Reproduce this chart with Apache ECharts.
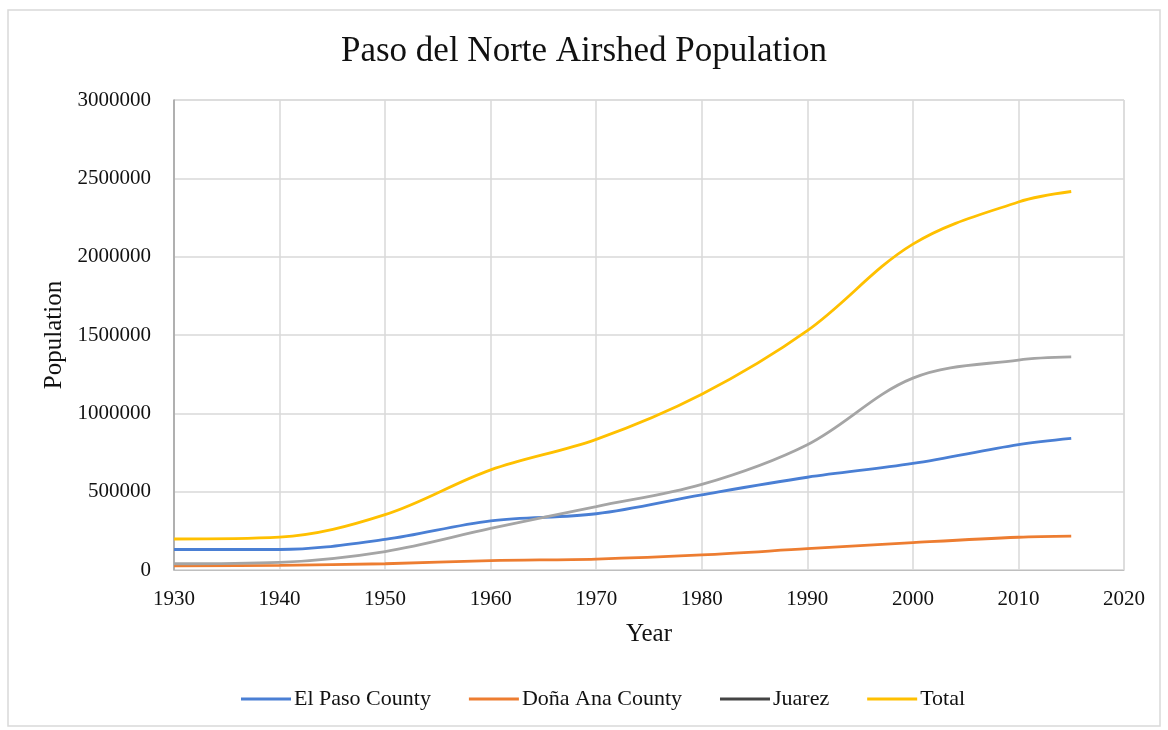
<!DOCTYPE html>
<html>
<head>
<meta charset="utf-8">
<script src="https://cdn.jsdelivr.net/npm/echarts@6/dist/echarts.min.js"></script>
<style>
html,body{margin:0;padding:0;background:#fff;}
#chart{width:1168px;height:730px;}
</style>
</head>
<body>
<div id="chart"></div>
<script>
const years = [1930, 1940, 1950, 1960, 1970, 1980, 1990, 2000, 2010, 2015];
const elPaso = [131000, 131000, 195000, 314000, 359000, 480000, 592000, 680000, 800000, 840000];
const donaAna = [27000, 30000, 40000, 60000, 70000, 96000, 136000, 175000, 209000, 216000];
const juarez = [40000, 49000, 118000, 265000, 405000, 546000, 800000, 1225000, 1340000, 1360000];
const total = [198000, 210000, 353000, 639000, 834000, 1122000, 1528000, 2080000, 2349000, 2416000];
const seriesNames = ['El Paso County', 'Doña Ana County', 'Juarez', 'Total'];
const colors = ['#4a7fd4', '#ed7d31', '#a5a5a5', '#ffc000'];
const yTicks = [0, 500000, 1000000, 1500000, 2000000, 2500000, 3000000];

const FONT = '"Liberation Serif", "DejaVu Serif", serif';
const pair = arr => years.map((y, i) => [y, arr[i]]);
const allData = [elPaso, donaAna, juarez, total];

const chart = echarts.init(document.getElementById('chart'));
chart.setOption({
  animation: false,
  backgroundColor: '#fff',
  title: {
    text: 'Paso del Norte Airshed Population',
    left: 'center',
    top: 29,
    textStyle: { fontFamily: FONT, fontSize: 35, fontWeight: 'normal', color: '#111' }
  },
  graphic: [{
    type: 'rect',
    shape: { x: 8, y: 10, width: 1152, height: 716 },
    style: { fill: 'none', stroke: '#d9d9d9', lineWidth: 1.5 }
  }],
  grid: { left: 174, right: 44, top: 100, bottom: 160, show: true, borderColor: '#d9d9d9', borderWidth: 1 },
  legend: {
    top: 683,
    left: 236,
    itemWidth: 50,
    itemHeight: 3,
    itemGap: 38,
    icon: 'rect',
    textStyle: { fontFamily: FONT, fontSize: 22, color: '#111', padding: [0, 0, 0, -2] },
    data: seriesNames.map((n, i) => ({
      name: n,
      itemStyle: { color: i === 2 ? '#444' : colors[i] }
    }))
  },
  xAxis: {
    type: 'value',
    min: 1930, max: 2020, interval: 10,
    name: 'Year',
    nameLocation: 'middle',
    nameGap: 52,
    nameTextStyle: { fontFamily: FONT, fontSize: 25, color: '#111' },
    axisLine: { show: true, lineStyle: { color: '#bfbfbf' } },
    axisTick: { show: false },
    axisLabel: { fontFamily: FONT, fontSize: 21, color: '#111', margin: 19, formatter: v => String(v) },
    splitLine: { show: true, lineStyle: { color: '#d9d9d9', width: 1.5 } }
  },
  yAxis: {
    type: 'value',
    min: 0, max: 3000000, interval: 500000,
    name: 'Population',
    nameLocation: 'middle',
    nameGap: 106,
    nameTextStyle: { fontFamily: FONT, fontSize: 25, color: '#111' },
    axisLine: { show: true, lineStyle: { color: '#a0a0a0', width: 1.5 } },
    axisTick: { show: false },
    axisLabel: {
      fontFamily: FONT, fontSize: 21, color: '#111', margin: 23,
      formatter: v => yTicks.includes(v) ? String(v) : ''
    },
    splitLine: { show: true, lineStyle: { color: '#d9d9d9', width: 1.5 } }
  },
  series: seriesNames.map((n, i) => ({
    name: n,
    type: 'line',
    smooth: 0.35,
    showSymbol: false,
    symbol: 'none',
    data: pair(allData[i]),
    lineStyle: { color: colors[i], width: 2.8 },
    itemStyle: { color: colors[i] },
    z: 2 + i
  }))
});
</script>
</body>
</html>
